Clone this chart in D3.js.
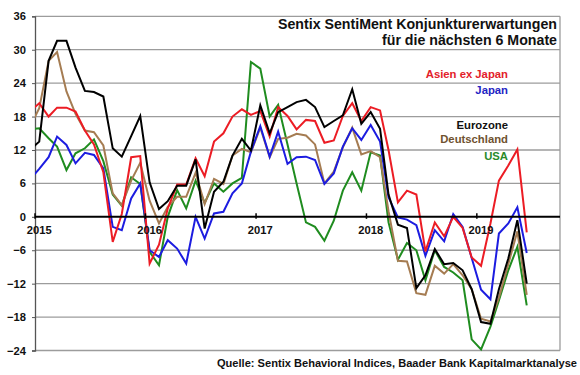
<!DOCTYPE html>
<html><head><meta charset="utf-8">
<script src="https://cdn.jsdelivr.net/npm/d3@7"></script>
<style>
html,body{margin:0;padding:0;background:#fff;}
svg text{font-family:"Liberation Sans",Arial,sans-serif;font-weight:bold;}
</style></head>
<body><svg id="c" width="580" height="375"></svg>
<script>
// Monthly values, Dec 2014 (clipped at the axis) through Jun 2019
const startYear = 2014, startMonth = 11;
const asienExJapan = [18.9,20.4,18.0,19.6,19.6,18.9,15.5,13.0,8.0,-4.5,0.5,10.7,10.9,-8.4,-5.0,1.5,5.8,5.8,10.5,7.3,13.5,15.0,18.0,19.3,18.3,19.0,14.4,19.7,18.1,15.7,17.4,17.2,13.3,13.7,18.1,20.4,17.2,19.7,19.1,12.0,2.6,4.7,4.0,-6.2,-1.0,-3.5,0.0,-2.0,-7.3,-8.8,-1.2,6.5,9.2,12.1,-2.8];
const japan = [6.7,8.6,10.7,14.4,12.9,9.6,11.5,11.1,8.7,-1.8,-2.4,3.3,6.0,-6.0,-7.2,-4.2,-5.7,-8.4,0.0,-3.9,0.6,0.9,4.2,6.0,11.7,16.3,10.8,15.3,9.5,10.7,10.8,10.2,5.9,7.8,12.6,15.9,13.8,16.5,13.5,3.5,-0.1,-0.5,-1.5,-7.0,-2.4,-4.4,0.5,-1.8,-7.4,-13.1,-14.8,-3.0,-1.2,1.7,-6.5];
const eurozone = [12.0,13.5,28.0,31.6,31.6,26.8,22.6,22.4,21.6,12.3,10.8,14.5,18.1,6.2,1.4,2.8,5.6,5.6,10.3,-2.1,4.5,6.3,11.0,14.0,11.9,20.0,15.0,18.8,19.7,20.6,21.0,19.7,16.1,17.2,18.2,22.9,16.7,18.8,15.8,4.0,-1.4,-2.0,-12.8,-10.5,-5.8,-8.5,-8.3,-9.6,-13.0,-18.9,-19.2,-13.0,-7.5,-0.6,-12.0];
const deutschland = [16.1,19.5,28.0,29.6,22.5,18.5,15.5,15.2,12.8,4.2,2.1,6.5,9.7,2.9,-1.2,1.8,3.6,3.6,7.9,2.3,6.8,5.9,11.0,12.2,11.6,16.0,10.7,14.0,14.2,14.9,14.6,13.0,6.0,8.1,12.5,16.0,11.2,11.8,10.7,1.0,-7.9,-8.0,-13.7,-14.0,-8.8,-10.2,-8.5,-10.5,-13.0,-18.3,-18.8,-14.5,-8.5,-2.6,-14.0];
const usa = [15.7,15.9,14.1,12.6,8.4,11.4,12.3,13.9,10.0,4.0,2.0,7.1,5.9,-6.3,-8.7,0.0,4.8,1.5,6.5,2.5,6.0,4.5,6.0,7.0,27.8,26.6,18.0,20.1,13.0,6.0,-1.0,-1.8,-4.3,-0.7,4.7,8.0,4.7,11.6,11.0,-1.0,-7.7,-4.7,-6.0,-11.4,-6.0,-9.0,-10.0,-11.4,-22.0,-23.8,-19.7,-15.0,-9.6,-5.4,-15.9];
const seriesNames = ["USA","Deutschland","Japan","Asien ex Japan","Eurozone"];
const yTicks = [-24,-18,-12,-6,0,6,12,18,24,30,36];
const yearLabels = ["2015","2016","2017","2018","2019"];
const titleLines = ["Sentix SentiMent Konjunkturerwartungen","für die nächsten 6 Monate"];
const sourceText = "Quelle: Sentix Behavioral Indices, Baader Bank Kapitalmarktanalyse";

const seriesData = {"Asien ex Japan":asienExJapan,"Japan":japan,"Eurozone":eurozone,"Deutschland":deutschland,"USA":usa};
const lineColors = {"Asien ex Japan":"#ec1c24","Japan":"#1c1ce0","Eurozone":"#000000","Deutschland":"#a57c52","USA":"#1f8c1f"};
const textColors = {"Asien ex Japan":"#e3202a","Japan":"#2424c4","Eurozone":"#111111","Deutschland":"#6f5230","USA":"#2a8a2a"};
const legendOrder = ["Asien ex Japan","Japan","Eurozone","Deutschland","USA"];
const legendY = [78,94,129,143,160];

const svg = d3.select("#c");
const L = 35, R = 560;
const x = d3.scaleUtc().domain([Date.UTC(2015,0,1), Date.UTC(2019,9,3)]).range([L,R]);
const y = d3.scaleLinear().domain([-24,36]).range([350.5,16.3]);
const dateOf = i => new Date(Date.UTC(startYear, startMonth + i, 15));

// grid
svg.append("g").selectAll("line").data(yTicks.filter(d=>d!==0)).join("line")
  .attr("x1",L).attr("x2",R).attr("y1",d=>y(d)).attr("y2",d=>y(d))
  .attr("stroke","#9c9c9c").attr("stroke-width",1.3);
// right border
svg.append("line").attr("x1",R).attr("x2",R).attr("y1",y(36)).attr("y2",y(-24))
  .attr("stroke","#9c9c9c").attr("stroke-width",1.3);

// y axis
const ya = svg.append("g").attr("transform",`translate(${L},0)`)
  .call(d3.axisLeft(y).tickValues(yTicks).tickSize(3).tickPadding(6).tickFormat(d3.format("d")));
ya.select(".domain").attr("stroke","#555").attr("stroke-width",1.3);
ya.selectAll(".tick line").attr("stroke","#555");
ya.selectAll("text").attr("font-size","11.2px").attr("fill","#111")
  .attr("font-family","Liberation Sans, Arial, sans-serif").attr("font-weight","bold");

// title
svg.append("g").selectAll("text").data(titleLines).join("text")
  .attr("x",557).attr("y",(d,i)=>29+i*16).attr("text-anchor","end")
  .attr("font-size","14.2px").attr("fill","#111").text(d=>d);

// lines
svg.append("clipPath").attr("id","clip").append("rect")
  .attr("x",L).attr("y",0).attr("width",R-L).attr("height",375);
const line = d3.line().x((d,i)=>x(dateOf(i))).y(d=>y(d));
const lg = svg.append("g").attr("clip-path","url(#clip)");
seriesNames.forEach(n=>{
  lg.append("path").datum(seriesData[n]).attr("d",line)
    .attr("fill","none").attr("stroke",lineColors[n]).attr("stroke-width",2)
    .attr("stroke-linejoin","miter");
});

// zero axis
svg.append("line").attr("x1",L).attr("x2",R).attr("y1",y(0)).attr("y2",y(0))
  .attr("stroke","#000").attr("stroke-width",2);
const xg = svg.append("g");
yearLabels.forEach(t=>{
  const yr = +t;
  xg.append("line").attr("x1",x(new Date(Date.UTC(yr,0,1)))).attr("x2",x(new Date(Date.UTC(yr,0,1))))
    .attr("y1",y(0)-3.5).attr("y2",y(0)+2).attr("stroke","#000").attr("stroke-width",1.5);
  xg.append("text").attr("x",x(new Date(Date.UTC(yr,0,15)))).attr("y",234)
    .attr("text-anchor","middle").attr("font-size","11.2px").attr("fill","#111").text(t);
});

// legend
svg.append("g").selectAll("text").data(legendOrder).join("text")
  .attr("x",508).attr("y",(d,i)=>legendY[i]).attr("text-anchor","end")
  .attr("font-size","11.3px").attr("fill",d=>textColors[d]).text(d=>d);

// source
svg.append("text").attr("x",577).attr("y",367).attr("text-anchor","end")
  .attr("font-size","11.1px").attr("fill","#111").text(sourceText);
</script></body></html>
